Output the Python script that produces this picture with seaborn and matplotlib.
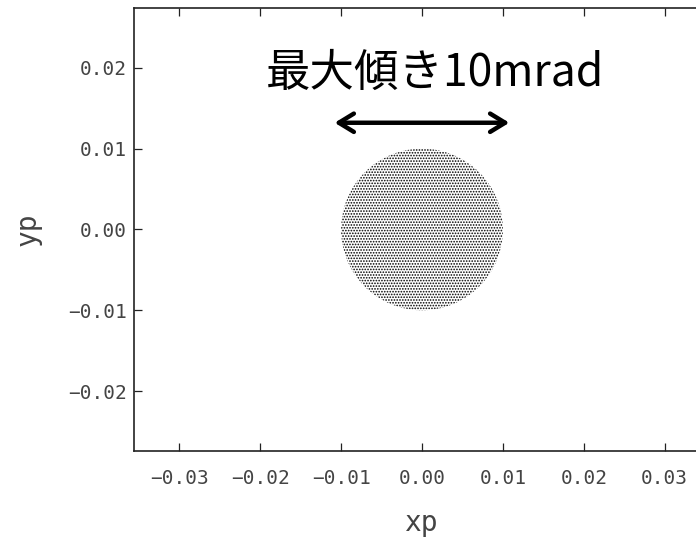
import matplotlib
matplotlib.use("Agg")
import matplotlib.pyplot as plt
from matplotlib.patches import Circle
import seaborn as sns

# Beam angular distribution: particles fill a disc of maximum tilt 10 mrad
center_xp = 0.0
center_yp = 0.0
max_tilt = 0.010

x_ticks = [-0.03, -0.02, -0.01, 0.00, 0.01, 0.02, 0.03]
y_ticks = [-0.02, -0.01, 0.00, 0.01, 0.02]
x_tick_labels = ["−0.03", "−0.02", "−0.01", "0.00", "0.01", "0.02", "0.03"]
y_tick_labels = ["−0.02", "−0.01", "0.00", "0.01", "0.02"]
annotation = "最大傾き10mrad"

sns.set_theme(style="ticks")
plt.rcParams["font.family"] = ["DejaVu Sans Mono", "DejaVu Sans"]
plt.rcParams["hatch.linewidth"] = 0.8
plt.rcParams["hatch.color"] = "black"

fig = plt.figure(figsize=(6.96, 5.37), dpi=100)
ax = fig.add_axes([0.1925, 0.1602, 0.8276, 0.8250])

# Stippled disc of radius max_tilt for the particle cloud
disc = Circle((center_xp, center_yp), max_tilt, facecolor="white",
              edgecolor="black", hatch="......", linewidth=0)
ax.add_patch(disc)

ax.set_xlim(-0.0356, 0.0356)
ax.set_ylim(-0.0274, 0.0274)
ax.set_xticks(x_ticks)
ax.set_xticklabels(x_tick_labels)
ax.set_yticks(y_ticks)
ax.set_yticklabels(y_tick_labels)

tick_color = "#444444"
ax.tick_params(axis="both", direction="in", length=6, width=0.9,
               color="#222222", labelcolor=tick_color, labelsize=14)
ax.tick_params(axis="x", top=True, bottom=True, pad=13)
ax.tick_params(axis="y", left=True, right=False, pad=5)

for side in ["left", "bottom", "top", "right"]:
    ax.spines[side].set_color("#222222")
    ax.spines[side].set_linewidth(1.2)

ax.set_xlabel("xp", fontsize=20, color=tick_color)
ax.set_ylabel("yp", fontsize=20, color=tick_color)
ax.xaxis.set_label_coords(0.5, -0.13)
ax.yaxis.set_label_coords(-0.16, 0.5)

# Arrow spanning the full tilt range and its caption
ax.annotate("", xy=(max_tilt + 0.0008, 0.0132), xytext=(-max_tilt - 0.0008, 0.0132),
            arrowprops=dict(arrowstyle="<->,head_length=0.9,head_width=0.55",
                            lw=3.2, color="black", capstyle="round",
                            joinstyle="round", shrinkA=0, shrinkB=0))
ax.text(0.0016, 0.0194, annotation, ha="center", va="center", fontsize=32,
        family=["Noto Sans CJK JP", "DejaVu Sans"], color="black")

fig.savefig("out.png", dpi=100)
